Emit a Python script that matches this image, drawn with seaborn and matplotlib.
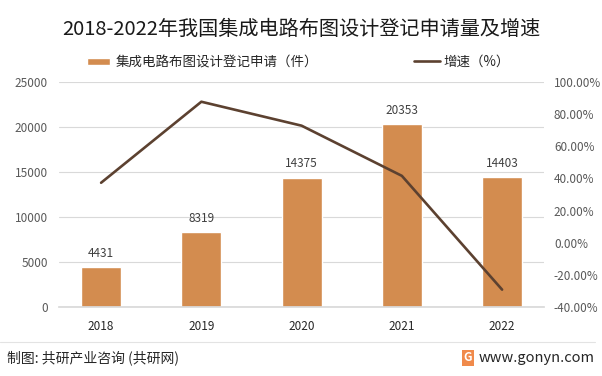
import numpy as np
import pandas as pd
import matplotlib
matplotlib.use('Agg')
import matplotlib.pyplot as plt
import seaborn as sns

sns.set_theme(style="white")
plt.rcParams['font.family'] = ['Noto Sans CJK SC', 'DejaVu Sans']

# Data
years = ['2018', '2019', '2020', '2021', '2022']
applications = [4431, 8319, 14375, 20353, 14403]
growth = [37.3, 87.7, 72.8, 41.6, -29.2]   # percent

bar_label = '集成电路布图设计登记申请（件）'
line_label = '增速（%）'
title = '2018-2022年我国集成电路布图设计登记申请量及增速'

BAR_COLOR = '#D38C4F'
LINE_COLOR = '#5C4130'
GRID_COLOR = '#D9D9D9'
TICK_COLOR = '#595959'

df = pd.DataFrame({'year': years, 'count': applications, 'growth': growth})

fig = plt.figure(figsize=(6.02, 3.76), dpi=100)
ax = fig.add_axes([0.098, 0.1835, 0.806, 0.5985])

sns.barplot(x='year', y='count', data=df, color=BAR_COLOR, width=0.4,
            saturation=1, ax=ax, label=bar_label, zorder=2)
if ax.get_legend() is not None:
    ax.get_legend().remove()
ax.set_ylim(0, 25000)
ax.set_yticks(np.arange(0, 25001, 5000))
ax.yaxis.grid(True, color=GRID_COLOR, linewidth=0.8, zorder=0)
ax.set_axisbelow(True)
ax.set_xlabel('')
ax.set_ylabel('')
for s in ['top', 'right', 'left']:
    ax.spines[s].set_visible(False)
ax.spines['bottom'].set_color(GRID_COLOR)
ax.tick_params(axis='y', colors=TICK_COLOR, labelsize=8.5, length=0, pad=8)
ax.tick_params(axis='x', colors='#262626', labelsize=8.5, length=0, pad=9)

for i, v in enumerate(applications):
    ax.text(i, v + 800, str(v), ha='center', va='bottom', fontsize=8.5, color='#404040')

ax2 = ax.twinx()
sns.lineplot(x='year', y='growth', data=df, color=LINE_COLOR, linewidth=1.9,
             ax=ax2, label=line_label, sort=False, legend=False)
ax2.set_ylim(-40, 100)
ax2.set_yticks(np.arange(-40, 101, 20))
ax2.set_yticklabels(['%.2f%%' % t for t in np.arange(-40, 101, 20)])
ax2.set_ylabel('')
for s in ['top', 'right', 'left', 'bottom']:
    ax2.spines[s].set_visible(False)
ax2.tick_params(axis='y', colors=TICK_COLOR, labelsize=8.5, length=0, pad=7)

# legend
h1, l1 = ax.get_legend_handles_labels()
h2, l2 = ax2.get_legend_handles_labels()
fig.legend(h1, l1, loc='center left', bbox_to_anchor=(0.145, 0.835), frameon=False,
           fontsize=9.7, handlelength=1.7, handleheight=0.45, handletextpad=0.4,
           borderaxespad=0, borderpad=0)
fig.legend(h2, l2, loc='center left', bbox_to_anchor=(0.688, 0.835), frameon=False,
           fontsize=9.7, handlelength=1.9, handletextpad=0.25,
           borderaxespad=0, borderpad=0)

fig.text(0.5, 0.923, title, ha='center', va='center', fontsize=14.5, color='#1a1a1a')

# footer
fig.add_artist(plt.Line2D([0.0, 0.988], [0.09, 0.09], color='#E3E3E3', linewidth=0.8))
fig.text(0.012, 0.048, '制图: 共研产业咨询 (共研网)', ha='left', va='center', fontsize=10, color='#262626')
fig.text(0.777, 0.048, 'G', ha='center', va='center', fontsize=8.5, color='white', fontweight='bold',
         bbox=dict(boxstyle='square,pad=0.15', facecolor='#F08A4B', edgecolor='none'))
fig.text(0.988, 0.048, 'www.gonyn.com', ha='right', va='center', fontsize=10.5, color='#262626')

plt.savefig('out.png', dpi=100)
plt.close()
